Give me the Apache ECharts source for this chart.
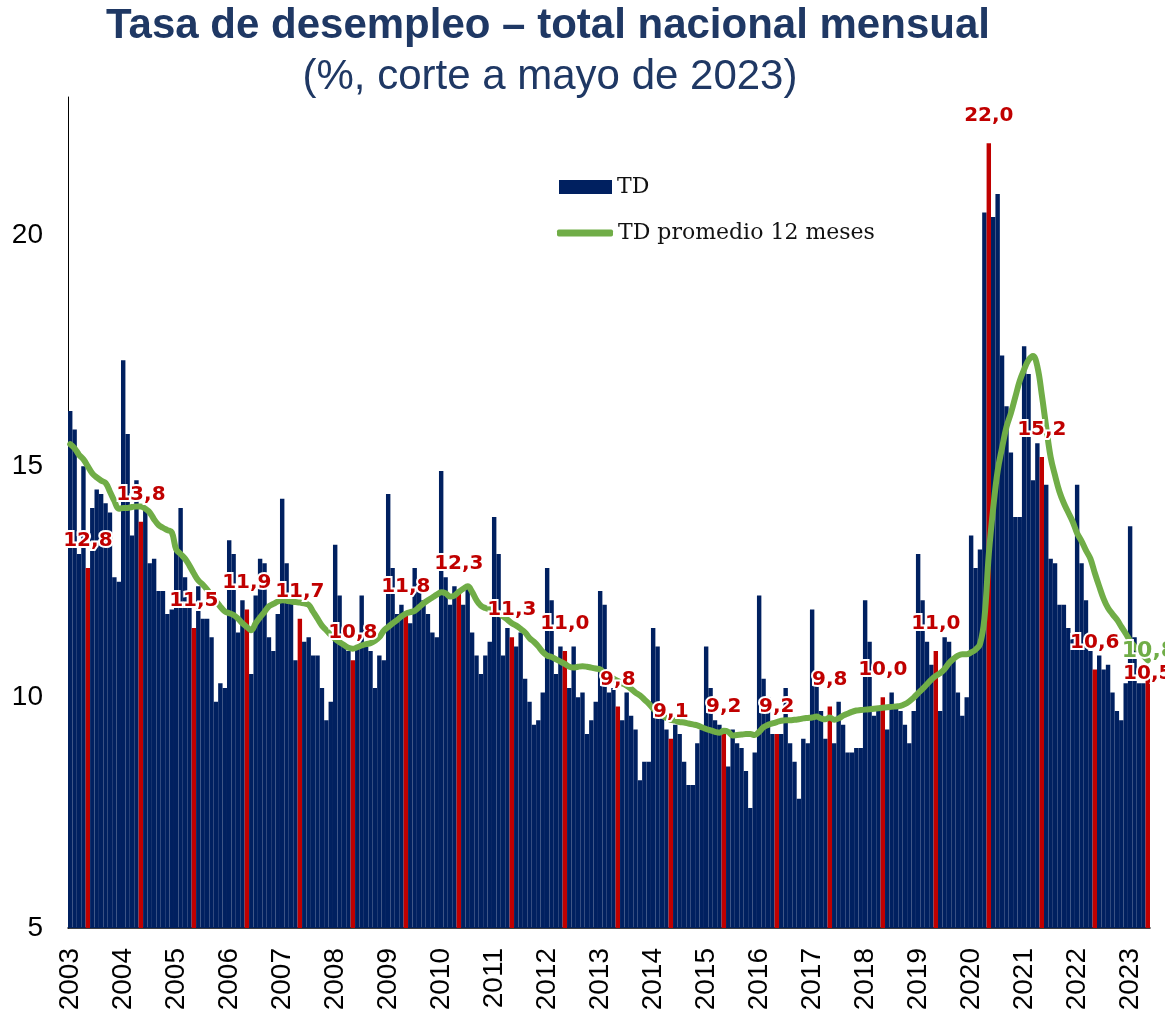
<!DOCTYPE html>
<html>
<head>
<meta charset="utf-8">
<script src="https://cdn.jsdelivr.net/npm/echarts@6/dist/echarts.min.js"></script>
<style>
  html, body { margin: 0; padding: 0; background: #fff; }
  #chart { width: 1165px; height: 1016px; }
</style>
</head>
<body>
<div id="chart"></div>
<script>
// años del eje (solo se rotula enero)
var years = [2003, 2004, 2005, 2006, 2007, 2008, 2009, 2010, 2011, 2012, 2013,
             2014, 2015, 2016, 2017, 2018, 2019, 2020, 2021, 2022, 2023];
var lastYearMonths = 5; // corte a mayo 2023

// TD mensual, ene..dic por año
var td = [
  16.2, 15.8, 13.1, 15.0, 12.8, 14.1, 14.5, 14.4, 14.2, 14.0, 12.6, 12.5, // 2003
  17.3, 15.7, 13.5, 14.7, 13.8, 14.1, 12.9, 13.0, 12.3, 12.3, 11.8, 11.9, // 2004
  13.2, 14.1, 12.6, 12.0, 11.5, 12.4, 11.7, 11.7, 11.3, 9.9, 10.3, 10.2,  // 2005
  13.4, 13.1, 11.4, 12.1, 11.9, 10.5, 12.2, 13.0, 12.9, 11.3, 11.0, 11.8, // 2006
  14.3, 12.9, 12.1, 10.8, 11.7, 11.2, 11.3, 10.9, 10.9, 10.2, 9.5, 9.9,   // 2007
  13.3, 12.2, 11.1, 11.0, 10.8, 11.1, 12.2, 11.1, 11.0, 10.2, 10.9, 10.8, // 2008
  14.4, 12.8, 11.8, 12.0, 11.8, 11.6, 12.8, 12.4, 12.1, 11.8, 11.4, 11.3, // 2009
  14.9, 12.6, 12.0, 12.4, 12.3, 12.0, 12.4, 11.4, 10.9, 10.5, 10.9, 11.2, // 2010
  13.9, 13.1, 10.9, 11.5, 11.3, 11.1, 11.4, 10.4, 9.9, 9.4, 9.5, 10.1,    // 2011
  12.8, 12.1, 10.5, 11.1, 11.0, 10.2, 11.1, 10.0, 10.1, 9.2, 9.5, 9.9,    // 2012
  12.3, 12.0, 10.1, 10.2, 9.8, 9.5, 10.1, 9.6, 9.3, 8.2, 8.6, 8.6,        // 2013
  11.5, 11.1, 9.7, 9.3, 9.1, 9.4, 9.2, 8.6, 8.1, 8.1, 9.0, 9.3,           // 2014
  11.1, 10.2, 9.5, 9.4, 9.2, 8.5, 9.3, 9.0, 8.9, 8.4, 7.6, 8.8,           // 2015
  12.2, 10.4, 10.0, 9.2, 9.2, 9.2, 10.2, 9.0, 8.6, 7.8, 9.1, 9.0,         // 2016
  11.9, 10.5, 9.7, 9.1, 9.8, 9.0, 9.9, 9.4, 8.8, 8.8, 8.9, 8.9,           // 2017
  12.1, 11.2, 9.6, 9.7, 10.0, 9.3, 10.1, 9.8, 9.7, 9.4, 9.0, 9.7,         // 2018
  13.1, 12.1, 11.2, 10.7, 11.0, 9.7, 11.3, 11.2, 10.8, 10.1, 9.6, 10.0,   // 2019
  13.5, 12.8, 13.2, 20.5, 22.0, 20.4, 20.9, 17.4, 16.3, 15.3, 13.9, 13.9, // 2020
  17.6, 17.0, 14.7, 15.5, 15.2, 14.6, 13.0, 12.9, 12.0, 12.0, 11.5, 11.3, // 2021
  14.6, 12.9, 12.1, 11.0, 10.6, 10.9, 10.6, 10.7, 10.1, 9.7, 9.5, 10.3,   // 2022
  13.7, 11.3, 10.3, 10.3, 10.5                                             // 2023
];

// TD promedio 12 meses
var tdProm = [
  15.48, 15.39, 15.25, 15.15, 15.00, 14.85, 14.76, 14.69, 14.64, 14.45, 14.25, 14.08, // 2003
  14.10, 14.10, 14.12, 14.13, 14.13, 14.08, 14.00, 13.85, 13.73, 13.67, 13.62, 13.57, // 2004
  13.20, 13.10, 13.00, 12.85, 12.68, 12.53, 12.44, 12.33, 12.20, 12.08, 11.96, 11.86, // 2005
  11.82, 11.78, 11.70, 11.60, 11.52, 11.45, 11.60, 11.73, 11.85, 11.97, 12.02, 12.07, // 2006
  12.10, 12.09, 12.07, 12.06, 12.05, 12.03, 12.00, 11.85, 11.70, 11.55, 11.45, 11.35, // 2007
  11.26, 11.19, 11.13, 11.07, 11.05, 11.08, 11.12, 11.15, 11.17, 11.22, 11.30, 11.44, // 2008
  11.52, 11.60, 11.67, 11.75, 11.81, 11.84, 11.87, 11.95, 12.03, 12.10, 12.16, 12.22, // 2009
  12.27, 12.25, 12.18, 12.20, 12.28, 12.35, 12.40, 12.28, 12.10, 11.98, 11.93, 11.90, // 2010
  11.87, 11.82, 11.75, 11.68, 11.60, 11.55, 11.48, 11.40, 11.28, 11.20, 11.10, 10.98, // 2011
  10.90, 10.87, 10.82, 10.77, 10.72, 10.66, 10.64, 10.66, 10.67, 10.66, 10.64, 10.62, // 2012
  10.60, 10.52, 10.46, 10.40, 10.35, 10.30, 10.25, 10.18, 10.10, 10.04, 9.95, 9.86,   // 2013
  9.75, 9.66, 9.60, 9.55, 9.51, 9.49, 9.46, 9.45, 9.43, 9.41, 9.39, 9.35,             // 2014
  9.31, 9.28, 9.25, 9.23, 9.27, 9.25, 9.17, 9.18, 9.19, 9.20, 9.20, 9.18,             // 2015
  9.25, 9.35, 9.40, 9.43, 9.46, 9.49, 9.50, 9.50, 9.51, 9.52, 9.54, 9.55,             // 2016
  9.56, 9.58, 9.54, 9.52, 9.56, 9.51, 9.54, 9.60, 9.64, 9.68, 9.71, 9.72,             // 2017
  9.73, 9.74, 9.75, 9.76, 9.77, 9.78, 9.79, 9.80, 9.81, 9.85, 9.91, 9.99,             // 2018
  10.09, 10.18, 10.28, 10.38, 10.46, 10.52, 10.61, 10.74, 10.83, 10.90, 10.93, 10.93, // 2019
  10.97, 11.03, 11.15, 11.70, 13.10, 14.10, 14.90, 15.40, 15.85, 16.15, 16.50, 16.85, // 2020
  17.10, 17.30, 17.39, 17.16, 16.55, 15.85, 15.20, 14.80, 14.45, 14.20, 14.00, 13.80, // 2021
  13.55, 13.38, 13.18, 13.00, 12.69, 12.40, 12.13, 11.93, 11.80, 11.68, 11.53, 11.38, // 2022
  11.22, 11.10, 11.00, 10.90, 10.80                                                    // 2023
];

var NAVY = '#002060', RED = '#c00000', GREEN = '#70ad47', TITLE = '#1f3864';

var months = [];
years.forEach(function (y, k) {
  var n = (k === years.length - 1) ? lastYearMonths : 12;
  for (var m = 1; m <= n; m++) months.push(y + '-' + (m < 10 ? '0' + m : m));
});

function coma(v) { return v.toFixed(1).replace('.', ','); }
function esMayo(i) { return i % 12 === 4; }

var last = td.length - 1;

// barras: mayo en rojo
var barData = td.map(function (v, i) {
  return esMayo(i) ? { value: v, itemStyle: { color: RED } } : v;
});

// etiquetas de mayo en serie aparte para que queden sobre la linea verde
var labelData = td.map(function (v, i) {
  if (!esMayo(i)) return '-';
  var it = { value: v };
  if (i === last) it.label = { offset: [0, 27] };
  return it;
});

var chart = echarts.init(document.getElementById('chart'));
chart.setOption({
  animation: false,
  title: [
    { text: 'Tasa de desempleo – total nacional mensual', left: 548, top: 5, textAlign: 'center', padding: 0,
      textStyle: { fontFamily: 'Liberation Sans, Arial', fontWeight: 'bold', fontSize: 42, color: TITLE } },
    { text: '(%, corte a mayo de 2023)', left: 550, top: 56, textAlign: 'center', padding: 0,
      textStyle: { fontFamily: 'Liberation Sans, Arial', fontWeight: 'normal', fontSize: 42, color: TITLE } }
  ],
  legend: [
    {
      left: 559, top: 176, padding: 0, itemWidth: 53, itemHeight: 14,
      textStyle: { fontFamily: 'DejaVu Serif', fontSize: 22, color: '#111' },
      data: [{ name: 'TD', icon: 'rect' }]
    },
    {
      left: 557, top: 222, padding: 0, itemWidth: 56, itemHeight: 7,
      textStyle: { fontFamily: 'DejaVu Serif', fontSize: 22, color: '#111' },
      data: [{ name: 'TD promedio 12 meses', icon: 'roundRect' }]
    }
  ],
  grid: { left: 68, right: 15, top: 97, bottom: 88 },
  xAxis: {
    type: 'category', data: months, boundaryGap: true,
    axisLine: { lineStyle: { color: '#000', width: 1.5 } },
    axisTick: { show: false },
    axisLabel: {
      interval: function (i) { return i % 12 === 0; },
      formatter: function (v) { return v.slice(0, 4); },
      rotate: 90, margin: 20, fontSize: 28, color: '#000', fontFamily: 'Liberation Sans, Arial'
    }
  },
  yAxis: {
    type: 'value', min: 5, max: 23, interval: 5,
    splitLine: { show: false },
    axisLine: { show: true, lineStyle: { color: '#000', width: 1 } },
    axisTick: { show: false },
    axisLabel: { showMaxLabel: false, margin: 25, fontSize: 28, color: '#000', fontFamily: 'Liberation Sans, Arial' }
  },
  series: [
    {
      name: 'TD', type: 'bar', data: barData, barWidth: '100%', barGap: '0%',
      itemStyle: { color: NAVY }, z: 2
    },
    {
      name: 'TD promedio 12 meses', type: 'line', data: tdProm, smooth: 0.4,
      showSymbol: false, symbol: 'none', z: 3,
      lineStyle: { color: GREEN, width: 6, cap: 'round' },
      itemStyle: { color: GREEN },
      endLabel: {
        show: true, offset: [-34, -9],
        formatter: function (p) { return coma(p.value); },
        color: GREEN, fontFamily: 'DejaVu Sans', fontWeight: 'bold', fontSize: 22,
        textBorderColor: '#fff', textBorderWidth: 4
      }
    },
    {
      name: 'mayo', type: 'scatter', data: labelData, symbolSize: 0, z: 5, silent: true,
      itemStyle: { color: RED, opacity: 1 },
      label: {
        show: true, position: 'top', distance: 17, opacity: 1,
        formatter: function (p) { return coma(p.value); },
        color: RED, fontFamily: 'DejaVu Sans', fontWeight: 'bold', fontSize: 20,
        textBorderColor: '#fff', textBorderWidth: 4
      }
    }
  ]
});
</script>
</body>
</html>
